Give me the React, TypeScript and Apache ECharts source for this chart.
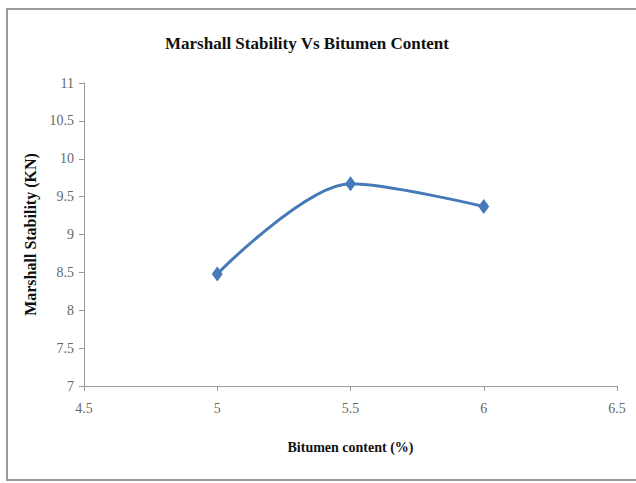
import React, { useEffect, useRef } from "react";
import * as echarts from "echarts";

const bitumenContent = [5, 5.5, 6];
const stability = [8.48, 9.67, 9.37];

const xMin = 4.5, xMax = 6.5, xStep = 0.5;
const yMin = 7, yMax = 11, yStep = 0.5;

const titleText = "Marshall Stability Vs Bitumen Content";
const xName = "Bitumen content (%)";
const yName = "Marshall Stability (KN)";

export default function App() {
  const ref = useRef<HTMLDivElement>(null);
  useEffect(() => {
    if (!ref.current) return;
    const chart = echarts.init(ref.current, null, { renderer: "svg" });
    const serif = "'Liberation Serif', 'DejaVu Serif', serif";
    chart.setOption({
      animation: false,
      backgroundColor: "#ffffff",
      title: {
        text: titleText,
        left: 302,
        textAlign: "center",
        top: 30,
        textStyle: { fontFamily: serif, fontWeight: "bold", fontSize: 17, color: "#111" },
      },
      graphic: [
        {
          type: "rect",
          shape: { x: 7, y: 9, width: 640, height: 471 },
          style: { fill: "none", stroke: "#9a9a9a", lineWidth: 2 },
          silent: true,
        },
      ],
      grid: { left: 84, right: 19, top: 83, bottom: 97 },
      xAxis: {
        type: "value",
        min: xMin,
        max: xMax,
        interval: xStep,
        name: xName,
        nameLocation: "middle",
        nameGap: 54,
        nameTextStyle: { fontFamily: serif, fontWeight: "bold", fontSize: 14, color: "#111" },
        axisLine: { show: true, lineStyle: { color: "#9a9a9a" } },
        axisTick: { show: true, length: 5, lineStyle: { color: "#9a9a9a" } },
        axisLabel: {
          fontFamily: serif,
          fontSize: 14,
          color: "#666666",
          margin: 15,
          formatter: (v: number) => String(v),
        },
        splitLine: { show: false },
      },
      yAxis: {
        type: "value",
        min: yMin,
        max: yMax,
        interval: yStep,
        name: yName,
        nameLocation: "middle",
        nameGap: 44,
        nameTextStyle: { fontFamily: serif, fontWeight: "bold", fontSize: 16, color: "#111" },
        axisLine: { show: true, lineStyle: { color: "#9a9a9a" } },
        axisTick: { show: true, length: 5, lineStyle: { color: "#9a9a9a" } },
        axisLabel: {
          fontFamily: serif,
          fontSize: 14,
          color: "#666666",
          margin: 10,
          formatter: (v: number) => String(v),
        },
        splitLine: { show: false },
      },
      series: [
        {
          type: "line",
          data: bitumenContent.map((x, i) => [x, stability[i]]),
          smooth: 0.3,
          symbol: "diamond",
          symbolSize: [11, 15],
          lineStyle: { color: "#4579B8", width: 3 },
          itemStyle: { color: "#4579B8" },
        },
      ],
    });
    return () => chart.dispose();
  }, []);
  return (
    <div
      ref={ref}
      style={{ position: "fixed", left: 0, top: 0, width: 636, height: 483 }}
    />
  );
}
